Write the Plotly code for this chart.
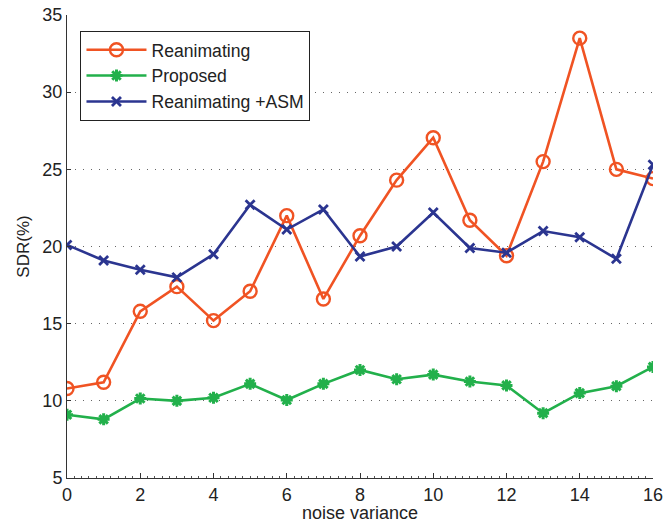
import plotly.graph_objects as go

noise_variance = list(range(17))
reanimating = [10.8, 11.2, 15.8, 17.4, 15.2, 17.1, 22.0, 16.6, 20.7, 24.3, 27.05, 21.7, 19.4, 25.5, 33.5, 25.0, 24.4]
proposed = [9.1, 8.8, 10.15, 10.0, 10.2, 11.1, 10.05, 11.1, 12.0, 11.4, 11.7, 11.25, 11.0, 9.2, 10.5, 10.95, 12.2]
reanimating_asm = [20.1, 19.1, 18.5, 18.0, 19.5, 22.7, 21.1, 22.4, 19.35, 20.0, 22.2, 19.9, 19.6, 21.0, 20.6, 19.2, 25.3]
x_ticks = [0, 2, 4, 6, 8, 10, 12, 14, 16]
y_ticks = [5, 10, 15, 20, 25, 30, 35]

RED = "#F05323"
GREEN = "#22B04B"
BLUE = "#2B3590"

fig = go.Figure()
fig.add_trace(go.Scatter(
    x=noise_variance, y=reanimating, name="Reanimating", mode="lines+markers",
    line=dict(color=RED, width=2.6),
    marker=dict(symbol="circle-open", size=13, color=RED, line=dict(width=2.4, color=RED)),
))
fig.add_trace(go.Scatter(
    x=noise_variance, y=proposed, name="Proposed", mode="lines+markers",
    line=dict(color=GREEN, width=2.6),
    marker=dict(symbol="asterisk-open", size=10, color=GREEN, line=dict(width=3, color=GREEN)),
))
fig.add_trace(go.Scatter(
    x=noise_variance, y=reanimating_asm, name="Reanimating +ASM", mode="lines+markers",
    line=dict(color=BLUE, width=2.6),
    marker=dict(symbol="x-thin-open", size=9, color=BLUE, line=dict(width=2.8, color=BLUE)),
))

font = "Liberation Sans, Arial, Helvetica, sans-serif"
fig.update_layout(
    width=664, height=523,
    margin=dict(l=67, r=11, t=15, b=45, autoexpand=False),
    paper_bgcolor="white", plot_bgcolor="white",
    font=dict(family=font, size=17, color="#222222"),
    showlegend=True,
    legend=dict(
        x=0.023, y=0.966, xanchor="left", yanchor="top",
        bgcolor="white", bordercolor="#222222", borderwidth=1,
        font=dict(family=font, size=17.6, color="#222222"),
        tracegroupgap=0, itemwidth=60,
    ),
    xaxis=dict(
        range=[0, 16], tickvals=x_ticks, ticktext=[str(v) for v in x_ticks],
        showgrid=False, zeroline=False, automargin=False,
        ticklabeloverflow="allow",
        showline=True, linecolor="#333333", linewidth=1, mirror=False,
        ticks="inside", ticklen=5, tickcolor="#333333",
        minor=dict(dtick=0.2, ticks="inside", ticklen=2, tickcolor="#555555", showgrid=False),
        tickfont=dict(size=18),
        title=dict(text="noise variance", font=dict(size=18), standoff=2),
    ),
    yaxis=dict(
        range=[5, 35], tickvals=y_ticks, ticktext=[str(v) for v in y_ticks],
        showgrid=True, gridcolor="#666666", griddash="1px,7px", gridwidth=1,
        zeroline=False, automargin=False,
        ticklabeloverflow="allow",
        showline=True, linecolor="#333333", linewidth=1, mirror=False,
        ticks="inside", ticklen=4, tickcolor="#333333",
        tickfont=dict(size=18),
        title=dict(text="SDR(%)", font=dict(size=17), standoff=8),
    ),
)

fig.write_html(
    "out.html",
    config={"displayModeBar": False},
    post_script="document.body.style.margin='0';document.body.style.overflow='hidden';",
)
